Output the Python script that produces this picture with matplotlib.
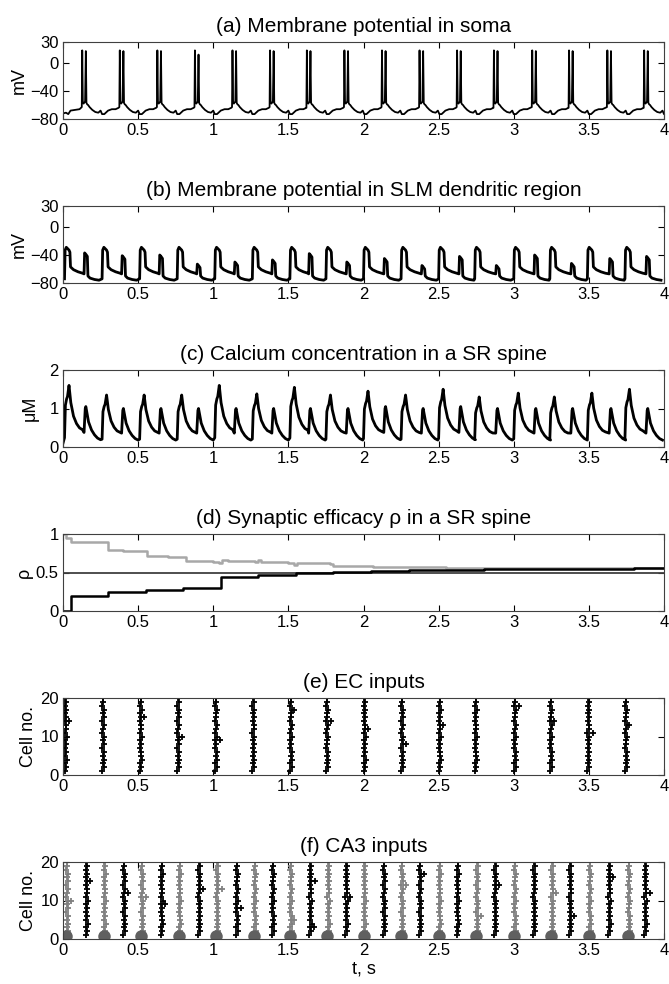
import numpy as np
import matplotlib
matplotlib.use("Agg")
import matplotlib.pyplot as plt

plt.rcParams['font.family'] = ['Liberation Sans', 'DejaVu Sans']

# event times (s)
ec_times = [0.01, 0.26, 0.51, 0.76, 1.01, 1.26, 1.51, 1.75, 2.0, 2.25, 2.5, 2.74, 3.0, 3.24, 3.49, 3.74]
burst_times = [0.125, 0.375, 0.625, 0.875, 1.125, 1.375, 1.62, 1.87, 2.12, 2.37, 2.62, 2.865,
               3.12, 3.365, 3.62, 3.865]
ca3_gray_times = [0.02, 0.27, 0.52, 0.77, 1.02, 1.27, 1.51, 1.76, 2.0, 2.25, 2.5, 2.75, 3.0, 3.25, 3.5, 3.76]
ca3_black_times = [0.15, 0.4, 0.65, 0.9, 1.15, 1.39, 1.64, 1.88, 2.13, 2.37, 2.62, 2.87, 3.13, 3.37, 3.63, 3.87]

# (a) soma: start of trace, then one burst (doublet) waveform per burst time
soma_pre_t = [0.0, 0.02, 0.035, 0.05, 0.08, 0.11, 0.12]
soma_pre_v = [-72, -71, -73, -68, -67, -66, -64]
soma_dt = [0.0, 0.003, 0.007, 0.012, 0.022, 0.027, 0.031, 0.036, 0.042, 0.052, 0.070, 0.090,
           0.110, 0.125, 0.135, 0.150, 0.175, 0.200, 0.225, 0.245]
soma_v = [-63, 18, -57, -58, -55, 17, -57, -59, -60, -63, -67, -70, -71, -68, -73, -73, -68, -66,
          -66, -64]
soma_spike2 = [17, 17, 17, 12, 17, 17, 17, 17, 17, 17, 17, 17, 17, 17, 17, 17]

# (b) SLM dendrite: EC plateau, then burst bump with its own height
dend_ec_dt = [0.0, 0.004, 0.012, 0.030, 0.036, 0.040, 0.06, 0.09, 0.12]
dend_ec_v = [-74, -33, -29, -33, -36, -57, -61, -64, -66]
dend_b_dt = [0.0, 0.004, 0.012, 0.022, 0.026, 0.04, 0.07, 0.1]
dend_b_rel = [None, 0, -2, -5, None, None, None, None]
dend_b_base = [-67, 0, 0, 0, -70, -73, -75, -76]
dend_burst_peak = [-37, -41, -40, -53, -50, -47, -38, -50, -45, -55, -42, -55, -40, -52, -45, -42]

# (c) calcium: fractions of the peak for the EC and burst responses
ca_ec_dt = [0.0, 0.006, 0.014, 0.020, 0.030, 0.042, 0.06, 0.08, 0.10, 0.12]
ca_ec_frac = [0.15, 0.68, 0.78, 0.82, 1.0, 0.72, 0.5, 0.38, 0.31, 0.28]
ca_b_dt = [0.0, 0.008, 0.012, 0.03, 0.05, 0.07, 0.09, 0.11]
ca_b_frac = [0.36, 0.95, 1.0, 0.62, 0.42, 0.3, 0.22, 0.18]
ca_main_peak = [1.6, 1.35, 1.35, 1.35, 1.6, 1.38, 1.55, 1.35, 1.45, 1.35, 1.5, 1.3, 1.4, 1.3, 1.4, 1.5]
ca_burst_peak = [1.05, 1.0, 1.0, 1.0, 1.0, 1.0, 1.0, 1.0, 1.05, 1.0, 1.05, 1.0, 1.0, 1.0, 1.0, 1.0]

# (d) synaptic efficacy
rho_gray_t = [0, 0.02, 0.05, 0.15, 0.27, 0.30, 0.40, 0.53, 0.56, 0.70, 0.79, 0.82, 1.0, 1.04, 1.06, 1.10,
              1.28, 1.30, 1.32, 1.50, 1.54, 1.56, 1.78, 1.80, 2.03, 2.06, 2.30, 2.55, 2.80, 3.05, 3.30,
              3.55, 3.80, 4.0]
rho_gray_v = [1.0, 0.95, 0.90, 0.89, 0.89, 0.79, 0.78, 0.78, 0.71, 0.70, 0.70, 0.645, 0.64, 0.62, 0.66,
              0.65, 0.64, 0.66, 0.63, 0.62, 0.60, 0.62, 0.61, 0.59, 0.58, 0.57, 0.565, 0.56, 0.56, 0.56,
              0.56, 0.56, 0.56, 0.56]
rho_black_t = [0, 0.05, 0.30, 0.55, 0.80, 1.05, 1.30, 1.55, 1.80, 2.05, 2.30, 2.55, 2.80, 3.05, 3.30,
               3.55, 3.80, 4.0]
rho_black_v = [0.0, 0.20, 0.25, 0.27, 0.30, 0.44, 0.47, 0.50, 0.51, 0.52, 0.53, 0.535, 0.54, 0.545,
               0.55, 0.55, 0.555, 0.555]

# (e),(f) rasters
cells = list(range(1, 21))
cell_jitter = [0.000, 0.012, 0.004, 0.014, 0.006, 0.012, 0.002, 0.010, 0.004, 0.014,
               0.000, 0.008, 0.012, 0.002, 0.010, 0.005, 0.013, 0.001, 0.009, 0.006]
ec_extra = [(0, 14, 0.03), (2, 15, 0.03), (3, 10, 0.035), (4, 9, 0.035), (6, 17, 0.03),
            (7, 14, 0.035), (8, 12, 0.03), (9, 8, 0.03), (10, 13, 0.03), (12, 18, 0.035),
            (13, 14, 0.03), (14, 11, 0.035), (15, 13, 0.03)]
ca3_black_extra = [(0, 15, 0.03), (1, 12, 0.03), (2, 9, 0.03), (3, 13, 0.035), (4, 8, 0.035),
                   (6, 15, 0.035), (6, 3, 0.03), (7, 11, 0.03), (9, 17, 0.03), (11, 14, 0.035),
                   (13, 6, 0.03), (14, 16, 0.03), (15, 12, 0.035)]
ca3_gray_extra = [(0, 10, 0.03), (2, 11, 0.03), (4, 13, 0.035), (6, 5, 0.03), (9, 14, 0.03),
                  (11, 6, 0.03), (13, 12, 0.03)]

xticks = [0, 0.5, 1, 1.5, 2, 2.5, 3, 3.5, 4]
xtick_labels = ['0', '0.5', '1', '1.5', '2', '2.5', '3', '3.5', '4']


def soma_trace():
    t = list(soma_pre_t)
    v = list(soma_pre_v)
    for k, t0 in enumerate(burst_times):
        for j, (dt, val) in enumerate(zip(soma_dt, soma_v)):
            t.append(t0 + dt)
            v.append(soma_spike2[k] if j == 5 else val)
    return t, v


def dend_trace():
    t, v = [], []
    for k, te in enumerate(ec_times):
        for dt, val in zip(dend_ec_dt, dend_ec_v):
            t.append(te + dt)
            v.append(val)
        for dt, rel, base in zip(dend_b_dt, dend_b_rel, dend_b_base):
            t.append(burst_times[k] + 0.015 + dt)
            v.append(base if rel is None else dend_burst_peak[k] + rel)
    return t, v


def ca_trace():
    t, v = [0.0], [0.1]
    for k, te in enumerate(ec_times):
        for dt, f in zip(ca_ec_dt, ca_ec_frac):
            t.append(te + dt)
            v.append(f * ca_main_peak[k])
        for dt, f in zip(ca_b_dt, ca_b_frac):
            t.append(burst_times[k] + 0.015 + dt)
            v.append(f * ca_burst_peak[k])
    return t, v


def raster(times, extra):
    xs, ys = [], []
    for t0 in times:
        for c, j in zip(cells, cell_jitter):
            xs.append(t0 + j)
            ys.append(c)
    for col, c, dt in extra:
        xs.append(times[col] + dt)
        ys.append(c)
    return xs, ys


fig = plt.figure(figsize=(6.69, 9.84), dpi=100)
W, H = 669.0, 984.0
axes = []
for i in range(6):
    top = 42 + 164 * i
    ax = fig.add_axes([63 / W, (H - top - 77) / H, 601 / W, 77 / H])
    ax.set_xlim(0, 4)
    ax.set_xticks(xticks)
    ax.set_xticklabels(xtick_labels)
    ax.tick_params(direction='in', top=True, right=True, length=4, labelsize=12, pad=3)
    for s in ax.spines.values():
        s.set_linewidth(0.8)
        s.set_color('#404040')
    axes.append(ax)

title_kw = dict(fontsize=15, pad=7)

ax = axes[0]
t, v = soma_trace()
ax.plot(t, v, color='black', lw=1.3)
ax.set_ylim(-80, 30)
ax.set_yticks([-80, -40, 0, 30])
ax.set_ylabel('mV', fontsize=13, labelpad=2)
ax.set_title('(a) Membrane potential in soma', **title_kw)

ax = axes[1]
t, v = dend_trace()
ax.plot(t, v, color='black', lw=2)
ax.set_ylim(-80, 30)
ax.set_yticks([-80, -40, 0, 30])
ax.set_ylabel('mV', fontsize=13, labelpad=2)
ax.set_title('(b) Membrane potential in SLM dendritic region', **title_kw)

ax = axes[2]
t, v = ca_trace()
ax.plot(t, v, color='black', lw=2)
ax.set_ylim(0, 2)
ax.set_yticks([0, 1, 2])
ax.set_ylabel('μM', fontsize=13, labelpad=8)
ax.set_title('(c) Calcium concentration in a SR spine', **title_kw)

ax = axes[3]
ax.axhline(0.5, color='#404040', lw=1.3)
ax.plot(rho_gray_t, rho_gray_v, color='#a8a8a8', lw=1.8, drawstyle='steps-post')
ax.plot(rho_black_t, rho_black_v, color='black', lw=1.8, drawstyle='steps-post')
ax.set_ylim(0, 1)
ax.set_yticks([0, 0.5, 1])
ax.set_yticklabels(['0', '0.5', '1'])
ax.set_ylabel('ρ', fontsize=13, labelpad=2)
ax.set_title('(d) Synaptic efficacy ρ in a SR spine', **title_kw)

ax = axes[4]
xs, ys = raster(ec_times, ec_extra)
ax.plot(xs, ys, '+', color='black', ms=4.5, mew=1.3)
ax.set_ylim(0, 20)
ax.set_yticks([0, 10, 20])
ax.set_ylabel('Cell no.', fontsize=13, labelpad=2)
ax.set_title('(e) EC inputs', **title_kw)

ax = axes[5]
xs, ys = raster(ca3_gray_times, ca3_gray_extra)
ax.plot(xs, ys, '+', color='#808080', ms=4.5, mew=1.3)
xs, ys = raster(ca3_black_times, ca3_black_extra)
ax.plot(xs, ys, '+', color='black', ms=4.5, mew=1.3)
ax.plot(ca3_gray_times, [0.9] * len(ca3_gray_times), 'o', color='#606060', ms=9, mew=0)
ax.set_ylim(0, 20)
ax.set_yticks([0, 10, 20])
ax.set_ylabel('Cell no.', fontsize=13, labelpad=2)
ax.set_xlabel('t, s', fontsize=13, labelpad=2)
ax.set_title('(f) CA3 inputs', **title_kw)

fig.savefig('out.png', dpi=100)
